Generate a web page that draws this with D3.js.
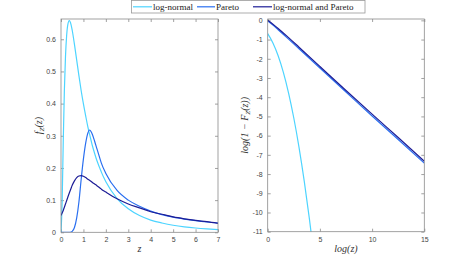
<!DOCTYPE html>
<html>
<head>
<meta charset="utf-8">
<script src="https://cdn.jsdelivr.net/npm/d3@7"></script>
<style>
  body { margin: 0; background: #fff; }
  svg { display: block; }
  .tick text { font-family: "Liberation Sans", Arial, sans-serif; font-size: 7px; fill: #444; }
  .lbl { font-family: "Liberation Serif", "DejaVu Serif", serif; font-style: italic; font-size: 10px; fill: #333; }
  .leg { font-family: "Liberation Serif", "DejaVu Serif", serif; font-size: 9px; fill: #222; }
</style>
</head>
<body>
<svg id="chart" width="469" height="261"></svg>
<script>
// series names and colours
var seriesNames = ['log-normal', 'Pareto', 'log-normal and Pareto'];
var seriesColors = ['#4dd4ff', '#2a6ff0', '#1c1c96'];

// left panel: density f_Z(z)
var pdfZ = [0, 0.05, 0.1, 0.15, 0.2, 0.25, 0.3, 0.37, 0.45, 0.5, 0.6, 0.7, 0.8, 0.9, 1.0, 1.1, 1.2, 1.27, 1.35, 1.4, 1.5, 1.6, 1.75, 1.8, 2.0, 2.5, 3.0, 3.5, 4.0, 4.5, 5.0, 5.5, 6.0, 6.5, 7.0];
var pdfLogNormal = [0, 0.09, 0.282, 0.44, 0.546, 0.61, 0.644, 0.658, 0.645, 0.628, 0.584, 0.535, 0.486, 0.44, 0.399, 0.362, 0.327, 0.306, 0.283, 0.269, 0.245, 0.223, 0.196, 0.187, 0.157, 0.105, 0.073, 0.052, 0.038, 0.029, 0.022, 0.017, 0.0134, 0.0107, 0.0086];
var pdfPareto = [0, 0, 0, 0, 0, 0, 0, 0, 0.001, 0.003, 0.015, 0.045, 0.095, 0.165, 0.228, 0.277, 0.309, 0.318, 0.312, 0.304, 0.283, 0.26, 0.226, 0.215, 0.183, 0.13, 0.1, 0.081, 0.066, 0.055, 0.047, 0.041, 0.036, 0.032, 0.029];
var pdfMixed = [0.052, 0.06, 0.068, 0.078, 0.088, 0.098, 0.108, 0.122, 0.137, 0.146, 0.16, 0.17, 0.175, 0.176, 0.174, 0.17, 0.165, 0.162, 0.158, 0.155, 0.15, 0.145, 0.137, 0.134, 0.125, 0.104, 0.088, 0.076, 0.064, 0.056, 0.048, 0.042, 0.037, 0.033, 0.028];

// right panel: log survival log(1 - F_Z(z)) against log(z)
var survLogZ = [0, 0.5, 1, 1.5, 2, 2.5, 3, 3.5, 4, 4.25];
var survLogNormal = [-0.693, -1.176, -1.841, -2.706, -3.783, -5.082, -6.608, -8.366, -10.36, -11.45];
var tailLogZ = [0, 0.5, 1, 2, 3, 5, 7.5, 10, 12.5, 15];
var survPareto = [-0.04, -0.25, -0.49, -0.98, -1.48, -2.48, -3.73, -4.98, -6.2, -7.43];
var survMixed = [0, -0.2, -0.42, -0.9, -1.4, -2.4, -3.65, -4.88, -6.1, -7.33];

var leftXTicks = [0, 1, 2, 3, 4, 5, 6, 7];
var leftYTicks = [0, 0.1, 0.2, 0.3, 0.4, 0.5, 0.6];
var rightXTicks = [0, 5, 10, 15];
var rightYTicks = [0, -1, -2, -3, -4, -5, -6, -7, -8, -9, -10, -11];

var svg = d3.select('#chart');
var axisColor = '#8a8a8a';

// plain hyphen for negatives, like the original figure
function plainFormat(d) { return String(d); }

function drawPanel(box, xDomain, yDomain, xTicks, yTicks, curves, xLabel, yLabelParts) {
    var x = d3.scaleLinear().domain(xDomain).range([box.left, box.right]);
    var y = d3.scaleLinear().domain(yDomain).range([box.bottom, box.top]);
    var g = svg.append('g');

    g.append('defs').append('clipPath').attr('id', box.id)
        .append('rect')
        .attr('x', box.left).attr('y', box.top)
        .attr('width', box.right - box.left).attr('height', box.bottom - box.top);

    // ticks on all four sides, pointing in (box on)
    var axes = [
        d3.axisBottom(x).tickValues(xTicks).tickSizeInner(-3).tickSizeOuter(0).tickPadding(5).tickFormat(plainFormat),
        d3.axisTop(x).tickValues(xTicks).tickSizeInner(-3).tickSizeOuter(0).tickFormat(''),
        d3.axisLeft(y).tickValues(yTicks).tickSizeInner(-3).tickSizeOuter(0).tickPadding(5).tickFormat(plainFormat),
        d3.axisRight(y).tickValues(yTicks).tickSizeInner(-3).tickSizeOuter(0).tickFormat('')
    ];
    var shifts = ['translate(0,' + box.bottom + ')', 'translate(0,' + box.top + ')',
        'translate(' + box.left + ',0)', 'translate(' + box.right + ',0)'];
    axes.forEach(function(ax, i) {
        var a = g.append('g').attr('transform', shifts[i]).call(ax);
        a.select('.domain').remove();
        a.selectAll('.tick line').attr('stroke', axisColor).attr('stroke-width', 0.8);
    });

    var lineGen = d3.line()
        .x(function(d) { return x(d[0]); })
        .y(function(d) { return y(d[1]); })
        .curve(d3.curveMonotoneX);

    var plot = g.append('g').attr('clip-path', 'url(#' + box.id + ')');
    curves.forEach(function(c) {
        plot.append('path')
            .datum(d3.zip(c.xs, c.ys))
            .attr('d', lineGen)
            .attr('fill', 'none')
            .attr('stroke', c.color)
            .attr('stroke-width', 1.2);
    });

    g.append('rect')
        .attr('x', box.left).attr('y', box.top)
        .attr('width', box.right - box.left).attr('height', box.bottom - box.top)
        .attr('fill', 'none').attr('stroke', axisColor).attr('stroke-width', 0.8);

    g.append('text').attr('class', 'lbl')
        .attr('x', (box.left + box.right) / 2).attr('y', box.bottom + 20)
        .attr('text-anchor', 'middle')
        .text(xLabel);

    var yl = g.append('text').attr('class', 'lbl')
        .attr('text-anchor', 'middle')
        .attr('transform', 'translate(' + box.ylabelX + ',' + ((box.top + box.bottom) / 2) + ') rotate(-90)');
    yLabelParts.forEach(function(p) {
        var t = yl.append('tspan').text(p.t);
        if (p.sub) t.attr('font-size', '7px').attr('dy', '2');
        if (p.up) t.attr('dy', '-2');
    });
}

drawPanel({ id: 'clipL', left: 61, right: 218, top: 19, bottom: 232.3, ylabelX: 42 },
    [0, 7], [0, 0.663], leftXTicks, leftYTicks,
    [
        { xs: pdfZ, ys: pdfLogNormal, color: seriesColors[0] },
        { xs: pdfZ, ys: pdfPareto, color: seriesColors[1] },
        { xs: pdfZ, ys: pdfMixed, color: seriesColors[2] }
    ],
    'z',
    [{ t: 'f' }, { t: 'Z', sub: true }, { t: '(z)', up: true }]);

drawPanel({ id: 'clipR', left: 267.7, right: 424.3, top: 19, bottom: 231.7, ylabelX: 248 },
    [0, 15], [-11, 0.07], rightXTicks, rightYTicks,
    [
        { xs: survLogZ, ys: survLogNormal, color: seriesColors[0] },
        { xs: tailLogZ, ys: survPareto, color: seriesColors[1] },
        { xs: tailLogZ, ys: survMixed, color: seriesColors[2] }
    ],
    'log(z)',
    [{ t: 'log(1 \u2212 F' }, { t: 'Z', sub: true }, { t: '(z))', up: true }]);

// legend across the top
var legendItems = [
    { name: seriesNames[0], color: seriesColors[0], x0: 133, x1: 152, tx: 153 },
    { name: seriesNames[1], color: seriesColors[1], x0: 197, x1: 215, tx: 216 },
    { name: seriesNames[2], color: seriesColors[2], x0: 253, x1: 272, tx: 273 }
];
var legend = svg.append('g');
legend.append('rect')
    .attr('x', 131.5).attr('y', 0.5).attr('width', 233.5).attr('height', 12.5)
    .attr('fill', '#fff').attr('stroke', '#999').attr('stroke-width', 0.8);
legendItems.forEach(function(d) {
    legend.append('line')
        .attr('x1', d.x0).attr('x2', d.x1).attr('y1', 6.8).attr('y2', 6.8)
        .attr('stroke', d.color).attr('stroke-width', 1.2);
    legend.append('text').attr('class', 'leg')
        .attr('x', d.tx).attr('y', 10)
        .text(d.name);
});
</script>
</body>
</html>
